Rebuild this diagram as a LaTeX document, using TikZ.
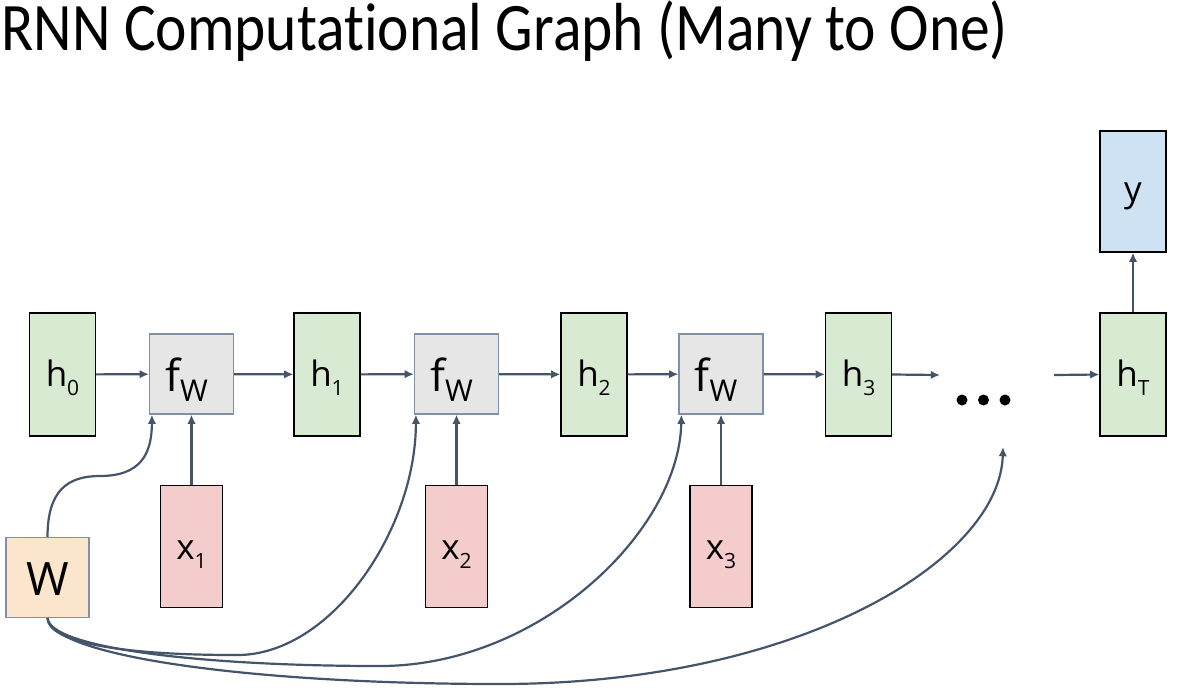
\documentclass[tikz,border=0pt]{standalone}
\usepackage{fontspec}
\usetikzlibrary{arrows.meta,calc}
\newfontfamily\labfont{Open Sans}
\newfontfamily\titlefont[Ligatures=NoCommon]{Carlito}
\definecolor{arrcol}{HTML}{44546A}
\definecolor{hgreen}{HTML}{D9EAD3}
\definecolor{fwgray}{HTML}{E6E6E6}
\definecolor{fwedge}{HTML}{8090A6}
\definecolor{xred}{HTML}{F4CCCC}
\definecolor{yblue}{HTML}{CFE2F3}
\definecolor{worange}{HTML}{FCE5CD}
\newcommand{\lsub}[1]{\raisebox{-4.5pt}{\fontsize{10.5}{12}\selectfont #1}}
\newcommand{\fwlab}{\kern-5pt{\fontsize{22}{24}\selectfont f}\raisebox{-5pt}{\fontsize{15}{16}\selectfont W}}
\begin{document}
\begin{tikzpicture}[x=0.5pt,y=-0.5pt,
  box/.style={draw=black, line width=0.6pt, inner sep=0pt, text depth=0pt,
    font={\labfont\fontsize{17.5}{20}\selectfont}},
  hbox/.style={box, fill=hgreen, minimum width=33pt, minimum height=61.5pt, text height=11.5pt},
  fwbox/.style={box, draw=fwedge, fill=fwgray, minimum width=42pt, minimum height=40pt, text height=17pt},
  xbox/.style={box, fill=xred, minimum width=31pt, minimum height=61pt, text height=12.5pt},
  ybox/.style={box, fill=yblue, minimum width=33pt, minimum height=60.5pt, text height=9.5pt},
  wbox/.style={box, draw=fwedge, fill=worange, minimum width=41.5pt, minimum height=40pt, text height=17.5pt,
    font={\labfont\fontsize{23}{26}\selectfont}},
  conn/.style={draw=arrcol, line width=1.1pt, -{Latex[length=4.6pt,width=4.2pt]}}]
\path[use as bounding box] (0,0) rectangle (1186,691);
% title
\node[anchor=base west, inner sep=0pt] (title) at (1,50)
  {\scalebox{0.875}[1]{\titlefont\fontsize{34}{38}\selectfont RNN Computational Graph (Many to One)}};
% hidden states
\node[hbox] (h0) at (62.5,374.5) {h\lsub{0}};
\node[hbox] (h1) at (327,374.5) {h\lsub{1}};
\node[hbox] (h2) at (594,374.5) {h\lsub{2}};
\node[hbox] (h3) at (858.5,374.5) {h\lsub{3}};
\node[hbox] (hT) at (1133,374.5) {h\lsub{T}};
% functions
\node[fwbox] (fw1) at (191.5,374) {\fwlab};
\node[fwbox] (fw2) at (456.5,374) {\fwlab};
\node[fwbox] (fw3) at (721,374) {\fwlab};
% inputs
\node[xbox] (x1) at (191.5,546.5) {x\lsub{1}};
\node[xbox] (x2) at (456.5,546.5) {x\lsub{2}};
\node[xbox] (x3) at (721,546.5) {x\lsub{3}};
% output
\node[ybox] (y) at (1133,191.5) {y};
% weights
\node[wbox] (W) at (47.5,577.5) {W};
% ellipsis
\fill (962,400) circle[radius=5.5] (983.5,400) circle[radius=5.5] (1005,400) circle[radius=5.5];
\coordinate (hend) at (940,375);
\coordinate (hstart) at (1054,375);
\coordinate (dotsin) at (1003,447);
% recurrent chain
\draw[conn] (h0) -- (fw1);
\draw[conn] (fw1) -- (h1);
\draw[conn] (h1) -- (fw2);
\draw[conn] (fw2) -- (h2);
\draw[conn] (h2) -- (fw3);
\draw[conn] (fw3) -- (h3);
\draw[conn] (h3.east) -- (hend);
\draw[conn] (hstart) -- (hT.west);
\draw[conn] (hT) -- (y);
% inputs
\draw[conn] (x1) -- (fw1);
\draw[conn] (x2) -- (fw2);
\draw[conn] (x3) -- (fw3);
% weight sharing
\draw[conn] (W.north) .. controls (47.5,490) and (68,476) .. (100,476)
  .. controls (140,476) and ($(fw1.south west)+(3,40)$) .. ($(fw1.south west)+(3,0)$);
\draw[conn] (W.south) .. controls (48,642) and (120,655) .. (235,655)
  .. controls (330,657) and ($(fw2.south west)+(2,116)$) .. ($(fw2.south west)+(2,0)$);
\draw[conn] (W.south) .. controls (50,648) and (200,666) .. (380,666)
  .. controls (540,666) and ($(fw3.south west)+(1,116)$) .. ($(fw3.south west)+(3,0)$);
\draw[conn] (W.south) .. controls (52,656) and (250,684) .. (500,684)
  .. controls (800,684) and (1000,560) .. (dotsin);
\end{tikzpicture}
\end{document}
